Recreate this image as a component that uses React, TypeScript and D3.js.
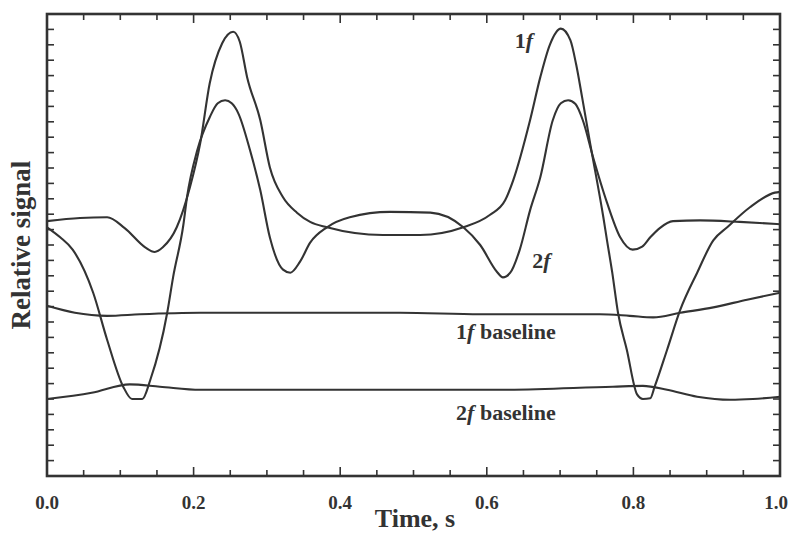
import * as d3 from "d3";

const W = 790,
    H = 533;
const margin = { top: 14, right: 10, bottom: 57, left: 47 };
const width = W - margin.left - margin.right;
const height = H - margin.top - margin.bottom;

// time axis (s) and relative signal
const sig1fT = [0, 0.045, 0.082, 0.106, 0.134, 0.147, 0.158, 0.177, 0.195, 0.209, 0.222, 0.239, 0.254, 0.263, 0.273, 0.291, 0.304, 0.322, 0.341, 0.359, 0.382, 0.458, 0.509, 0.568, 0.604, 0.625, 0.636, 0.659, 0.673, 0.686, 0.701, 0.714, 0.722, 0.73, 0.741, 0.759, 0.764, 0.771, 0.779, 0.791, 0.805, 0.813, 0.823, 0.829, 0.846, 0.864, 0.887, 0.909, 0.928, 0.959, 0.993, 1]
const sig1fV = [3.31, 3.35, 3.36, 3.22, 2.97, 2.91, 2.97, 3.23, 3.75, 4.32, 5.1, 5.62, 5.77, 5.64, 5.18, 4.62, 4.01, 3.62, 3.42, 3.3, 3.23, 3.13, 3.13, 3.23, 3.39, 3.58, 3.84, 4.62, 5.18, 5.6, 5.81, 5.66, 5.34, 4.92, 4.32, 3.36, 3.06, 2.65, 2.12, 1.64, 1.06, 1.0, 1.01, 1.16, 1.64, 2.16, 2.64, 3.06, 3.23, 3.49, 3.68, 3.69]

const sig2fT = [0, 0.018, 0.035, 0.063, 0.082, 0.104, 0.116, 0.13, 0.141, 0.164, 0.172, 0.186, 0.191, 0.205, 0.222, 0.233, 0.243, 0.252, 0.261, 0.277, 0.291, 0.304, 0.322, 0.332, 0.345, 0.359, 0.382, 0.413, 0.468, 0.523, 0.568, 0.591, 0.614, 0.622, 0.632, 0.645, 0.659, 0.673, 0.69, 0.701, 0.711, 0.721, 0.731, 0.745, 0.764, 0.782, 0.799, 0.812, 0.823, 0.836, 0.854, 0.891, 0.945, 1]
const sig2fV = [3.23, 3.1, 2.94, 2.38, 1.77, 1.16, 1.0, 1.0, 1.25, 2.12, 2.58, 3.26, 3.62, 4.23, 4.66, 4.84, 4.88, 4.84, 4.71, 4.23, 3.71, 3.1, 2.68, 2.64, 2.78, 3.03, 3.23, 3.36, 3.43, 3.42, 3.23, 3.0, 2.65, 2.58, 2.64, 2.94, 3.45, 3.88, 4.62, 4.84, 4.88, 4.83, 4.62, 4.14, 3.55, 3.1, 2.94, 2.98, 3.1, 3.22, 3.31, 3.32, 3.3, 3.27]

const base1fT = [0, 0.038, 0.082, 0.127, 0.209, 0.345, 0.482, 0.591, 0.754, 0.795, 0.827, 0.864, 0.909, 0.955, 1]
const base1fV = [2.21, 2.12, 2.08, 2.1, 2.12, 2.12, 2.12, 2.1, 2.1, 2.08, 2.06, 2.12, 2.19, 2.29, 2.38]

const base2fT = [0, 0.061, 0.113, 0.154, 0.209, 0.345, 0.482, 0.618, 0.772, 0.813, 0.846, 0.887, 0.932, 0.963, 1]
const base2fV = [1.0, 1.08, 1.19, 1.16, 1.12, 1.12, 1.12, 1.12, 1.16, 1.17, 1.12, 1.03, 0.99, 1.0, 1.03]

const xTickLabels = ["0.0", "0.2", "0.4", "0.6", "0.8", "1.0"]

const series = [
    { t: sig1fT, v: sig1fV },
    { t: sig2fT, v: sig2fV },
    { t: base1fT, v: base1fV },
    { t: base2fT, v: base2fV },
]

const ink = "#333"
const font = "'Liberation Serif', 'Times New Roman', serif"

const App = () => {
    const x = d3.scaleLinear().domain([0, 1]).range([margin.left, margin.left + width])
    const y = d3.scaleLinear().domain([0, 6]).range([margin.top + height, margin.top])

    const line = d3
        .line<[number, number]>()
        .x((d) => x(d[0]))
        .y((d) => y(d[1]))
        .curve(d3.curveMonotoneX)

    const xTicks = d3.range(0, 21).map((i) => i / 20)
    const yTicks = d3.range(1, 30).map((i) => i / 5)
    const x0 = x(0),
        x1 = x(1),
        y0 = y(0),
        y1 = y(6)

    return (
        <svg width={W} height={H} style={{ position: "absolute", left: 0, top: 0, background: "#fff" }}>
            {/* ticks, all pointing inward */}
            {xTicks.map((t, i) => {
                const len = i % 4 === 0 ? 9 : 6
                return (
                    <g key={"xt" + i} stroke={ink} strokeWidth={1.6}>
                        <line x1={x(t)} x2={x(t)} y1={y0} y2={y0 - len} />
                        <line x1={x(t)} x2={x(t)} y1={y1} y2={y1 + len} />
                    </g>
                )
            })}
            {yTicks.map((v, i) => (
                <g key={"yt" + i} stroke={ink} strokeWidth={1.6}>
                    <line x1={x0} x2={x0 + 7} y1={y(v)} y2={y(v)} />
                    <line x1={x1} x2={x1 - 7} y1={y(v)} y2={y(v)} />
                </g>
            ))}

            {series.map((s, i) => (
                <path
                    key={"s" + i}
                    d={line(s.t.map((t, j) => [t, s.v[j]] as [number, number])) || ""}
                    fill="none"
                    stroke={ink}
                    strokeWidth={2.1}
                    strokeLinejoin="round"
                />
            ))}

            <rect x={x0} y={y1} width={x1 - x0} height={y0 - y1} fill="none" stroke={ink} strokeWidth={2.6} />

            {xTickLabels.map((lab, i) => {
                const last = i === xTickLabels.length - 1
                return (
                    <text
                        key={"xl" + i}
                        x={last ? W - 2 : x(i * 0.2)}
                        y={509}
                        textAnchor={last ? "end" : "middle"}
                        fontFamily={font}
                        fontWeight="bold"
                        fontSize={19}
                        fill={ink}
                    >
                        {lab}
                    </text>
                )
            })}

            <text x={415} y={527} textAnchor="middle" fontFamily={font} fontWeight="bold" fontSize={26} fill={ink}>
                Time, s
            </text>
            <text
                transform={`translate(30,${(y0 + y1) / 2}) rotate(-90)`}
                textAnchor="middle"
                fontFamily={font}
                fontWeight="bold"
                fontSize={27}
                fill={ink}
            >
                Relative signal
            </text>

            <g fontFamily={font} fontWeight="bold" fontSize={22} fill={ink}>
                <text x={x(0.638)} y={y(5.56)}>
                    1<tspan fontStyle="italic">f</tspan>
                </text>
                <text x={x(0.662)} y={y(2.7)}>
                    2<tspan fontStyle="italic">f</tspan>
                </text>
                <text x={x(0.694)} y={y(1.78)} textAnchor="end">
                    1<tspan fontStyle="italic">f</tspan> baseline
                </text>
                <text x={x(0.694)} y={y(0.73)} textAnchor="end">
                    2<tspan fontStyle="italic">f</tspan> baseline
                </text>
            </g>
        </svg>
    )
}

export default App
